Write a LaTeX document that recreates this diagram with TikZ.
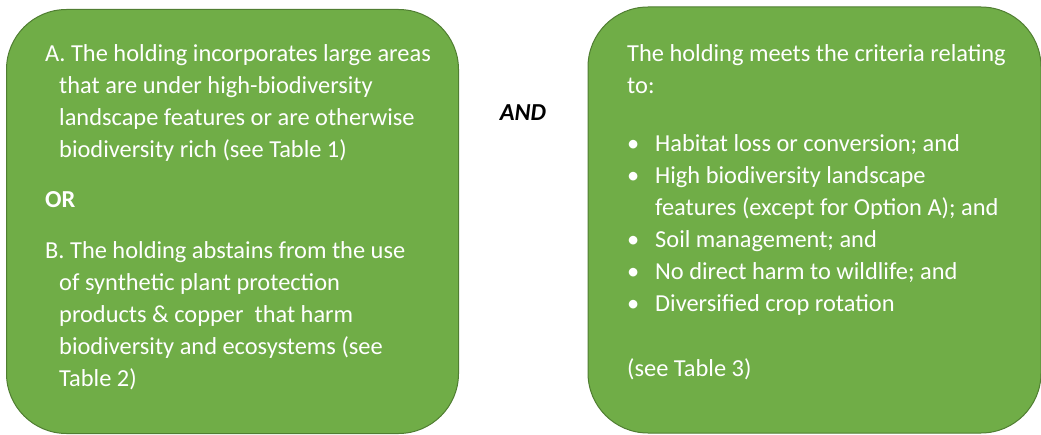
\documentclass[tikz,border=0pt]{standalone}
\usepackage{fontspec}
\setmainfont{Carlito}
\usetikzlibrary{positioning}
\definecolor{boxfill}{HTML}{70AD47}
\definecolor{boxline}{HTML}{507E32}
\newcommand{\bul}{\makebox[28pt][l]{\textbullet}}

\begin{document}
\begin{tikzpicture}[x=1pt, y=-1pt, node distance=128.5pt,
  every node/.style={font=\fontsize{24.4pt}{32pt}\selectfont, inner sep=0pt},
  greenbox/.style={draw=boxline, line width=1pt, fill=boxfill, rounded corners=60pt, minimum width=452pt, minimum height=424pt},
  boxtext/.style={text=white, align=left, anchor=base west}]
  \useasboundingbox (0,0) rectangle (1041,435);

  % Boxes
  \node[greenbox] (left) at (232.5,221.5) {};
  \node[greenbox, right=of left, minimum width=453pt, minimum height=426pt, yshift=1.5pt] (right) {};

  % Link word
  \node[anchor=base, font=\fontsize{24.4pt}{32pt}\selectfont\bfseries\itshape] (and) at (523,121) {AND};

  % Left box (base = last line)
  \node[boxtext] (optA) at (45,158) {A. The holding incorporates large areas\\
    \hspace*{14pt}that are under high-biodiversity\\
    \hspace*{14pt}landscape features or are otherwise\\
    \hspace*{14pt}biodiversity rich (see Table 1)};
  \node[boxtext, font=\fontsize{24.4pt}{32pt}\selectfont\bfseries] (or) at (45,208) {OR};
  \node[boxtext] (optB) at (45,386) {B. The holding abstains from the use\\
    \hspace*{14pt}of synthetic plant protection\\
    \hspace*{14pt}products \& copper\ \ that harm\\
    \hspace*{14pt}biodiversity and ecosystems (see\\
    \hspace*{14pt}Table 2)};

  % Right box
  \node[boxtext] (crit) at (627,94) {The holding meets the criteria relating\\to:};
  \node[boxtext] (list) at (627,312) {\bul Habitat loss or conversion; and\\
    \bul High biodiversity landscape\\
    \hspace*{28pt}features (except for Option A); and\\
    \bul Soil management; and\\
    \bul No direct harm to wildlife; and\\
    \bul Diversified crop rotation};
  \node[boxtext] (see) at (627,377) {(see Table 3)};
\end{tikzpicture}
\end{document}
